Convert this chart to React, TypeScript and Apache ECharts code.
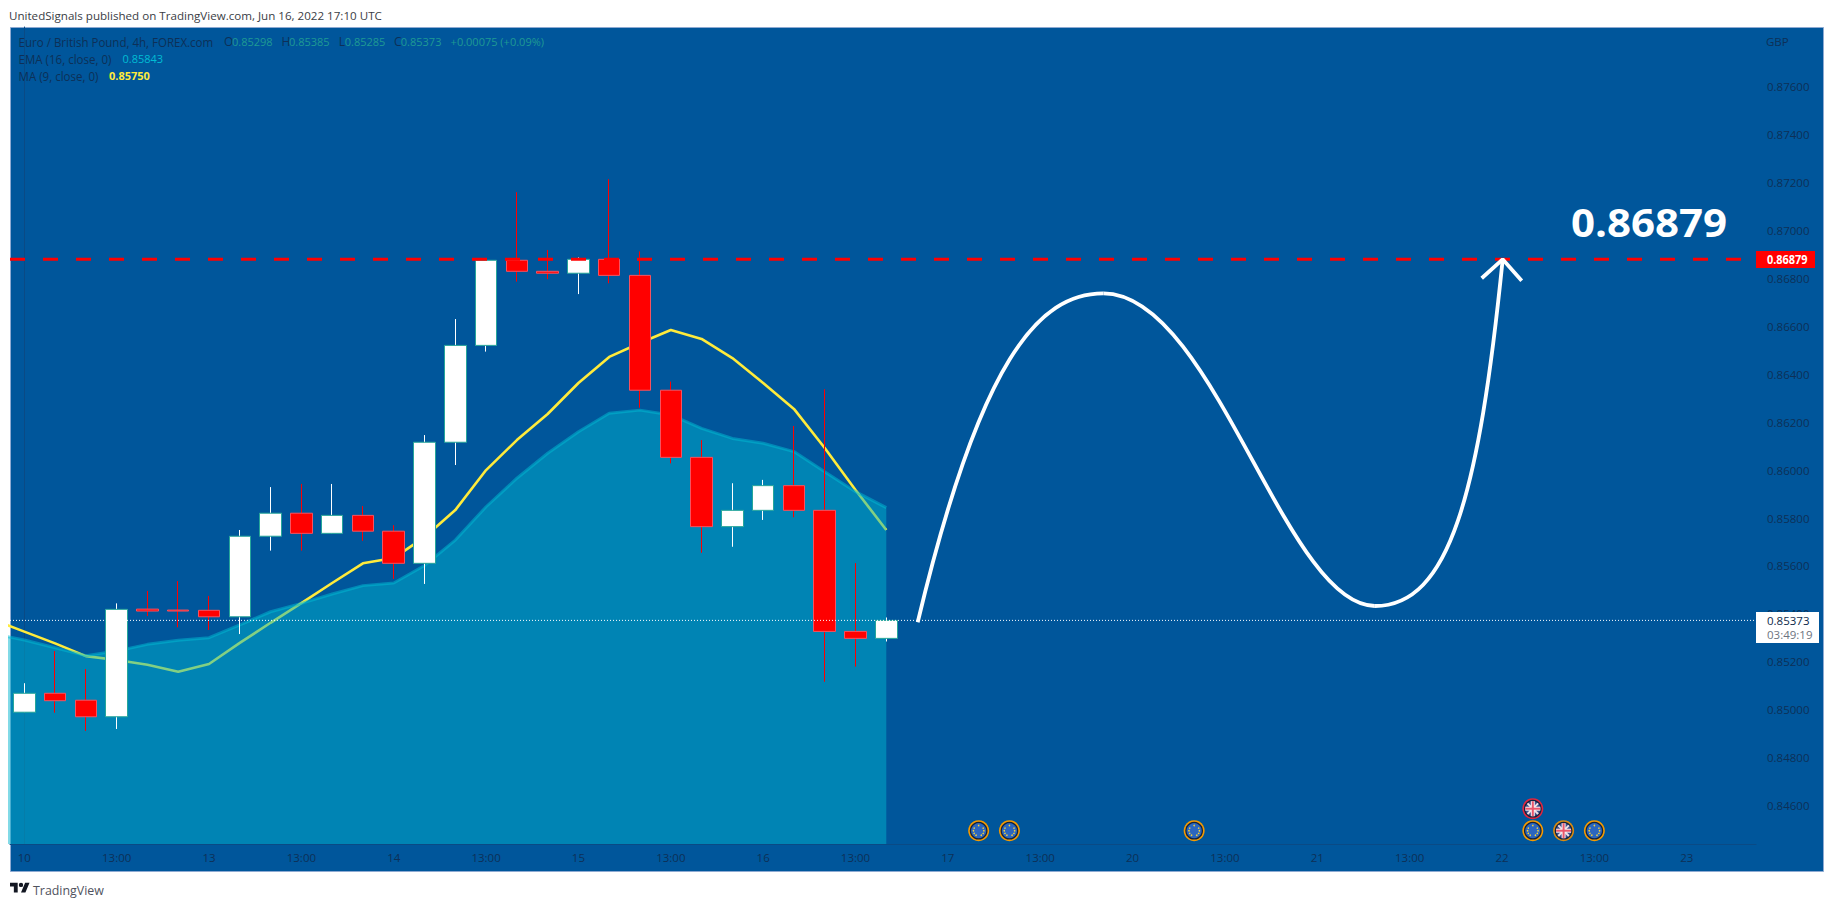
import React, { useEffect, useRef } from "react";
import * as echarts from "echarts";

const timeLabels = ["10","13:00","13","13:00","14","13:00","15","13:00","16","13:00","17","13:00","20","13:00","21","13:00","22","13:00","23"];
const priceTicks = [0.846,0.848,0.85,0.852,0.854,0.856,0.858,0.86,0.862,0.864,0.866,0.868,0.87,0.872,0.874,0.876];

const bars = [0,1,2,3,4,5,6,7,8,9,10,11,12,13,14,15,16,17,18,19,20,21,22,23,24,25,26,27,28];
const opens = [0.8499,0.85069,0.8504,0.84971,0.8542,0.85416,0.85415,0.85388,0.85724,0.8582,0.85736,0.85811,0.85745,0.85611,0.86116,0.8652,0.86875,0.86829,0.86821,0.86879,0.86812,0.86333,0.86053,0.85764,0.85832,0.85935,0.85832,0.85327,0.85298];
const closes = [0.85069,0.85038,0.84971,0.85419,0.85412,0.85412,0.85388,0.85724,0.8582,0.85736,0.85811,0.85745,0.85611,0.86116,0.8652,0.86875,0.86829,0.86821,0.86879,0.86812,0.86333,0.86053,0.85764,0.85832,0.85935,0.85832,0.85327,0.85298,0.85373];
const lows = [0.8499,0.84988,0.84912,0.8492,0.85391,0.85344,0.85333,0.85316,0.85664,0.85664,0.85736,0.85705,0.85546,0.85525,0.86021,0.86494,0.86786,0.86796,0.86734,0.86779,0.8626,0.86028,0.85655,0.8568,0.85792,0.85803,0.85117,0.8518,0.85285];
const highs = [0.85111,0.85245,0.8517,0.85444,0.85496,0.85537,0.85475,0.8575,0.85929,0.85942,0.85942,0.8585,0.8577,0.86146,0.8663,0.86883,0.87159,0.86918,0.86887,0.87213,0.86912,0.86369,0.86125,0.85945,0.85959,0.86184,0.86337,0.85612,0.85385];

const indicatorBars = [-1,0,1,2,3,4,5,6,7,8,9,10,11,12,13,14,15,16,17,18,19,20,21,22,23,24,25,26,27,28];
const maValues = [0.85375,0.85326,0.85277,0.85224,0.85208,0.85188,0.85159,0.85191,0.85279,0.85363,0.85445,0.85529,0.85611,0.85633,0.8572,0.85833,0.86,0.86125,0.86234,0.86363,0.86472,0.8653,0.86584,0.86547,0.86467,0.86363,0.86255,0.86092,0.85917,0.8575];
const emaValues = [0.85317,0.85291,0.85259,0.85226,0.85245,0.85273,0.8529,0.85301,0.85354,0.85409,0.85444,0.85483,0.85518,0.85529,0.85602,0.85708,0.85847,0.85966,0.8607,0.8616,0.86237,0.8625,0.8623,0.86174,0.86132,0.86112,0.86077,0.85993,0.8591,0.85843];

// Hand-drawn projection: cubic segments as [bar, price] for start, control 1, control 2, end
const curveSegA = [29.02,0.85365, 31.05,0.86459, 32.94,0.86737, 35.05,0.86737];
const curveSegB = [35.05,0.86737, 38.62,0.86737, 40.95,0.85433, 43.87,0.85433];
const curveSegC = [43.87,0.85433, 46.31,0.85433, 47.25,0.85904, 48.02,0.86876];
const arrowBars = [47.34,48.02,48.64];
const arrowPrices = [0.868,0.86879,0.8679];

const eventBars = [31,32,38,49,50,51,49];
const eventPrices = [0.844957,0.844957,0.844957,0.844957,0.844957,0.844957,0.845875];
const eventKinds = ["eu","eu","eu","eu","uk","eu","ukRed"];

const targetPrice = 0.86879;
const lastPrice = 0.85373;
const countdown = "03:49:19";
const xMin = -0.4645;
const xMax = 56.25;
const yMin = 0.844403;
const yMax = 0.87848;

const FONT = '"Open Sans", "Noto Sans", sans-serif';
const DARK = "#0d3057";
const GREEN = "#1f9a93";

echarts.graphic.registerShape(
  "tvLogo",
  echarts.graphic.extendPath(
    "M14 22H7V11H0V4h14v18zM28 22h-8l7.5-18h8L28 22zM24 8a4 4 0 1 1-8 0 4 4 0 0 1 8 0z",
    {}
  )
);

function txt(text: string, x: number, y: number, fill: string, size = 11, weight = "normal", sx = 1) {
  return {
    type: "text",
    x,
    y,
    scaleX: sx,
    z: 30,
    style: {
      text,
      fill,
      font: `${weight} ${size}px ${FONT}`,
      textAlign: "left",
      textVerticalAlign: "middle",
    },
  };
}

function renderCurve(_params: any, api: any) {
  const pt = (i: number) => api.coord([api.value(i), api.value(i + 1)]);
  const [x1, y1] = pt(0);
  const [cpx1, cpy1] = pt(2);
  const [cpx2, cpy2] = pt(4);
  const [x2, y2] = pt(6);
  return {
    type: "bezierCurve",
    shape: { x1, y1, x2, y2, cpx1, cpy1, cpx2, cpy2 },
    style: { stroke: "#ffffff", lineWidth: 3.8, fill: "none" },
  };
}

function renderEvent(_params: any, api: any) {
  const kind = eventKinds[_params.dataIndex];
  const [cx, cy] = api.coord([api.value(0), api.value(1)]);
  const ring = kind === "ukRed" ? "#e0263f" : kind === "uk" ? "#d98a10" : "#f59a00";
  const children: any[] = [
    { type: "circle", shape: { cx, cy, r: 10.5 }, style: { fill: ring } },
    { type: "circle", shape: { cx, cy, r: 8.9 }, style: { fill: "#12233d" } },
  ];
  if (kind === "eu") {
    children.push({ type: "circle", shape: { cx, cy, r: 7.6 }, style: { fill: "#2b66c0" } });
    for (let k = 0; k < 12; k++) {
      const a = (k * Math.PI) / 6;
      children.push({
        type: "circle",
        shape: { cx: cx + 5.2 * Math.cos(a), cy: cy + 5.2 * Math.sin(a), r: 0.8 },
        style: { fill: "#f4d23c" },
      });
    }
  } else {
    children.push({ type: "circle", shape: { cx, cy, r: 7.6 }, style: { fill: "#3d4f8c" } });
    const seg = (x1: number, y1: number, x2: number, y2: number, stroke: string, lineWidth: number) => ({
      type: "line",
      shape: { x1: cx + x1, y1: cy + y1, x2: cx + x2, y2: cy + y2 },
      style: { stroke, lineWidth },
    });
    children.push(seg(-5.3, -5.3, 5.3, 5.3, "#f2dfe3", 2));
    children.push(seg(-5.3, 5.3, 5.3, -5.3, "#f2dfe3", 2));
    children.push(seg(-7.5, 0, 7.5, 0, "#f6eef0", 4));
    children.push(seg(0, -7.5, 0, 7.5, "#f6eef0", 4));
    children.push(seg(-7.5, 0, 7.5, 0, "#e9566b", 2));
    children.push(seg(0, -7.5, 0, 7.5, "#e9566b", 2));
  }
  return { type: "group", children };
}

export default function App() {
  const ref = useRef<HTMLDivElement>(null);
  useEffect(() => {
    document.body.style.margin = "0";
    const chart = echarts.init(ref.current!, undefined, { renderer: "svg" });
    const axisLine = { show: true, lineStyle: { color: "#0a4a85", width: 1 } };
    const option: any = {
      animation: false,
      backgroundColor: "#ffffff",
      grid: { left: 10, top: 27, width: 1746, height: 817, containLabel: false },
      xAxis: {
        type: "value",
        min: xMin,
        max: xMax,
        axisLine: { ...axisLine, onZero: false },
        axisTick: { show: false },
        splitLine: { show: false },
        axisLabel: {
          customValues: timeLabels.map((_, i) => i * 3),
          formatter: (v: number) => timeLabels[Math.round(v / 3)],
          color: DARK,
          fontFamily: FONT,
          fontSize: 11.5,
          margin: 7,
        },
      },
      yAxis: {
        type: "value",
        position: "right",
        min: yMin,
        max: yMax,
        axisLine,
        axisTick: { show: false },
        splitLine: { show: false },
        axisLabel: {
          customValues: priceTicks,
          formatter: (v: number) => v.toFixed(5),
          color: DARK,
          fontFamily: FONT,
          fontSize: 11.5,
          margin: 11,
        },
      },
      graphic: [
        {
          type: "rect",
          z: -10,
          shape: { x: 10.5, y: 27.5, width: 1813, height: 844 },
          style: { fill: "#00569b", stroke: "#8eaad2", lineWidth: 1 },
        },
        txt("UnitedSignals published on TradingView.com, Jun 16, 2022 17:10 UTC", 9, 15, "#3a3d45", 11.6),
        txt("Euro / British Pound, 4h, FOREX.com", 18.6, 41.5, DARK, 12, "normal", 0.96),
        txt("O", 224, 41.5, DARK, 12),
        txt("0.85298", 232, 41.5, GREEN, 11),
        txt("H", 281.4, 41.5, DARK, 12),
        txt("0.85385", 289, 41.5, GREEN, 11),
        txt("L", 338.7, 41.5, DARK, 12),
        txt("0.85285", 344.7, 41.5, GREEN, 11),
        txt("C", 394, 41.5, DARK, 12),
        txt("0.85373", 400.8, 41.5, GREEN, 11),
        txt("+0.00075 (+0.09%)", 450.6, 41.5, GREEN, 11),
        txt("EMA (16, close, 0)", 18.6, 58.5, DARK, 12, "normal", 0.96),
        txt("0.85843", 122.5, 58.5, "#00bcd4", 11),
        txt("MA (9, close, 0)", 18.6, 75.5, DARK, 12, "normal", 0.96),
        txt("0.85750", 109, 75.5, "#ffeb3b", 11, "bold"),
        txt("GBP", 1766, 41, DARK, 11.5),
        txt("0.86879", 1571, 221, "#ffffff", 40, "bold", 1.05),
        { type: "rect", z: 29, shape: { x: 1756, y: 251, width: 59, height: 17 }, style: { fill: "#ff0000" } },
        txt("0.86879", 1767, 259.5, "#ffffff", 11.5, "bold", 0.95),
        { type: "rect", z: 29, shape: { x: 1756, y: 612, width: 63, height: 31 }, style: { fill: "#ffffff" } },
        txt("0.85373", 1767, 620.5, "#0d2a4a", 11.5),
        txt(countdown, 1767, 634.5, "#6d7480", 11.5),
        { type: "tvLogo", x: 10, y: 880.5, scaleX: 0.55, scaleY: 0.55, z: 30, style: { fill: "#131722" } },
        txt("TradingView", 33, 890, "#50535e", 12.4),
      ],
      series: [
        {
          name: "MA (9, close, 0)",
          type: "line",
          z: 2,
          showSymbol: false,
          clip: true,
          data: indicatorBars.map((b, i) => [b, maValues[i]]),
          lineStyle: { color: "#ffeb3b", width: 2.6 },
        },
        {
          name: "EMA (16, close, 0)",
          type: "line",
          z: 3,
          showSymbol: false,
          clip: true,
          data: indicatorBars.map((b, i) => [b, emaValues[i]]),
          lineStyle: { color: "rgba(0,188,212,0.5)", width: 3 },
          areaStyle: { color: "rgba(0,180,206,0.49)", origin: "start", opacity: 1 },
        },
        {
          name: "Wicks",
          type: "candlestick",
          z: 4,
          barWidth: 1,
          clip: false,
          data: bars.map((b, i) => [b, opens[i], closes[i], lows[i], highs[i]]),
          encode: { x: 0, y: [1, 2, 3, 4] },
          itemStyle: { color: "#ffffff", color0: "#ff0000", borderColor: "#ffffff", borderColor0: "#ff0000", borderWidth: 1 },
        },
        {
          name: "Euro / British Pound",
          type: "candlestick",
          z: 5,
          barWidth: 22,
          clip: false,
          data: bars.map((b, i) => [b, opens[i], closes[i], Math.min(opens[i], closes[i]), Math.max(opens[i], closes[i])]),
          encode: { x: 0, y: [1, 2, 3, 4] },
          itemStyle: { color: "#ffffff", color0: "#ff0000", borderColor: "#26a69a", borderColor0: "#f7525f", borderWidth: 1 },
        },
        {
          name: "Target",
          type: "line",
          z: 6,
          showSymbol: false,
          data: [[xMin, targetPrice], [xMax, targetPrice]],
          lineStyle: { color: "#ff0000", width: 3, type: [15, 18] },
        },
        {
          name: "Last",
          type: "line",
          z: 7,
          showSymbol: false,
          data: [[xMin, lastPrice], [xMax, lastPrice]],
          lineStyle: { color: "#ffffff", width: 1, type: [1, 2] },
        },
        {
          name: "Projection",
          type: "custom",
          z: 8,
          renderItem: renderCurve,
          data: [curveSegA, curveSegB, curveSegC],
          encode: { x: [0, 2, 4, 6], y: [1, 3, 5, 7] },
        },
        {
          name: "Arrow",
          type: "line",
          z: 8,
          showSymbol: false,
          data: arrowBars.map((b, i) => [b, arrowPrices[i]]),
          lineStyle: { color: "#ffffff", width: 3.8 },
        },
        {
          name: "Events",
          type: "custom",
          z: 9,
          renderItem: renderEvent,
          data: eventBars.map((b, i) => [b, eventPrices[i]]),
          encode: { x: 0, y: 1 },
        },
      ],
    };
    chart.setOption(option);
    return () => chart.dispose();
  }, []);
  return <div ref={ref} style={{ width: 1834, height: 907 }} />;
}
